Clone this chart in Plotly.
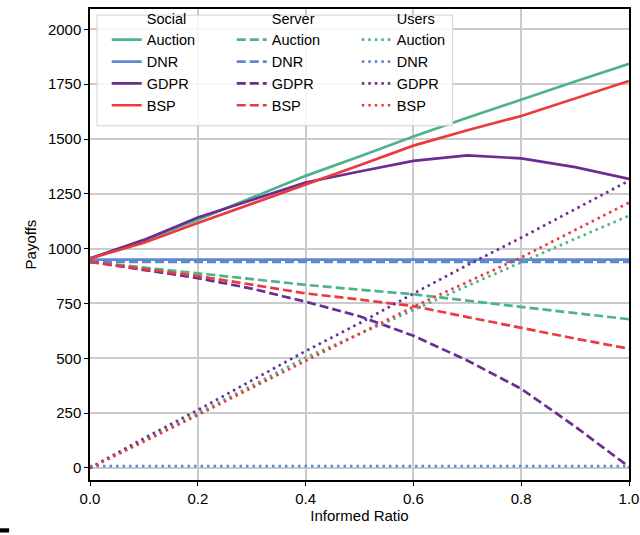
import plotly.graph_objects as go

ratio = [0.0, 0.1, 0.2, 0.3, 0.4, 0.5, 0.6, 0.7, 0.8, 0.9, 1.0]

social_auction = [955, 1038, 1132, 1232, 1332, 1420, 1512, 1597, 1681, 1762, 1843]
social_dnr = [950] * 11
social_gdpr = [955, 1040, 1142, 1222, 1302, 1352, 1400, 1425, 1412, 1372, 1318]
social_bsp = [955, 1027, 1117, 1205, 1290, 1380, 1470, 1540, 1605, 1685, 1765]

server_auction = [940, 913, 886, 860, 835, 813, 792, 763, 735, 707, 678]
server_dnr = [940] * 11
server_gdpr = [940, 903, 866, 818, 758, 692, 603, 490, 361, 189, 5]
server_bsp = [940, 908, 875, 836, 796, 768, 738, 688, 638, 590, 544]

users_auction = [0, 125, 249, 375, 503, 610, 720, 830, 938, 1045, 1150]
users_dnr = [8] * 11
users_gdpr = [0, 135, 264, 400, 533, 660, 795, 925, 1050, 1180, 1310]
users_bsp = [0, 120, 241, 365, 488, 610, 735, 848, 960, 1085, 1210]

methods = ["Auction", "DNR", "GDPR", "BSP"]
colors = {"Auction": "#4DB38A", "DNR": "#5E88CF", "GDPR": "#6B2D91", "BSP": "#EB3A3E"}
groups = [
    ("Social", "legend", "solid", [social_auction, social_dnr, social_gdpr, social_bsp]),
    ("Server", "legend2", "9px,4px", [server_auction, server_dnr, server_gdpr, server_bsp]),
    ("Users", "legend3", "2.5px,4px", [users_auction, users_dnr, users_gdpr, users_bsp]),
]

y_ticks = [0, 250, 500, 750, 1000, 1250, 1500, 1750, 2000]
x_ticks = [0.0, 0.2, 0.4, 0.6, 0.8, 1.0]

FONT = "Liberation Sans, Arial, Helvetica, sans-serif"

fig = go.Figure()
for title, leg, dash, series in groups:
    fig.add_trace(go.Scatter(x=[None], y=[None], mode="lines", name=title,
                             line=dict(color="rgba(0,0,0,0)", width=2.5),
                             legend=leg, hoverinfo="skip"))
    for m, vals in zip(methods, series):
        fig.add_trace(go.Scatter(x=ratio, y=vals, mode="lines", name=m,
                                 line=dict(color=colors[m], width=2.7, dash=dash),
                                 legend=leg))

# Legend background box (paper coordinates)
fig.add_shape(type="rect", xref="paper", yref="paper",
              x0=0.013, x1=0.673, y0=0.752, y1=0.987,
              fillcolor="rgba(255,255,255,0.85)", line=dict(color="#d2d2d2", width=1),
              layer="above")
# small black mark at bottom-left of the image
fig.add_shape(type="rect", xref="paper", yref="paper",
              x0=-0.167, x1=-0.150, y0=-0.1115, y1=-0.1025,
              fillcolor="black", line=dict(width=0))

leg_common = dict(bgcolor="rgba(0,0,0,0)", borderwidth=0, xanchor="left", yanchor="top",
                  font=dict(family=FONT, size=14.5, color="black"), tracegroupgap=0,
                  itemwidth=30)
fig.update_layout(
    width=640, height=535,
    margin=dict(l=90, r=11, t=2, b=55),
    paper_bgcolor="white", plot_bgcolor="white",
    font=dict(family=FONT, size=15, color="black"),
    legend=dict(x=0.031, y=1.015, **leg_common),
    legend2=dict(x=0.263, y=1.015, **leg_common),
    legend3=dict(x=0.495, y=1.015, **leg_common),
    xaxis=dict(range=[0, 1], tickvals=x_ticks, ticktext=[f"{v:.1f}" for v in x_ticks],
               showgrid=True, gridcolor="#cbcbcb", gridwidth=1.5,
               showline=True, linecolor="black", linewidth=1.5, mirror=True,
               ticks="outside", ticklen=4, tickwidth=1.2, tickcolor="black",
               zeroline=False, automargin=False,
               title=dict(text="Informed Ratio", font=dict(size=15), standoff=4)),
    yaxis=dict(range=[-55, 2093], tickvals=y_ticks,
               showgrid=True, gridcolor="#cbcbcb", gridwidth=1.5,
               showline=True, linecolor="black", linewidth=1.5, mirror=True,
               ticks="outside", ticklen=4, tickwidth=1.2, tickcolor="black",
               zeroline=False, automargin=False,
               title=dict(text="Payoffs", font=dict(size=15), standoff=8)),
)

fig.write_html("out.html", config={"displayModeBar": False},
               post_script="document.body.style.margin='0px';")
